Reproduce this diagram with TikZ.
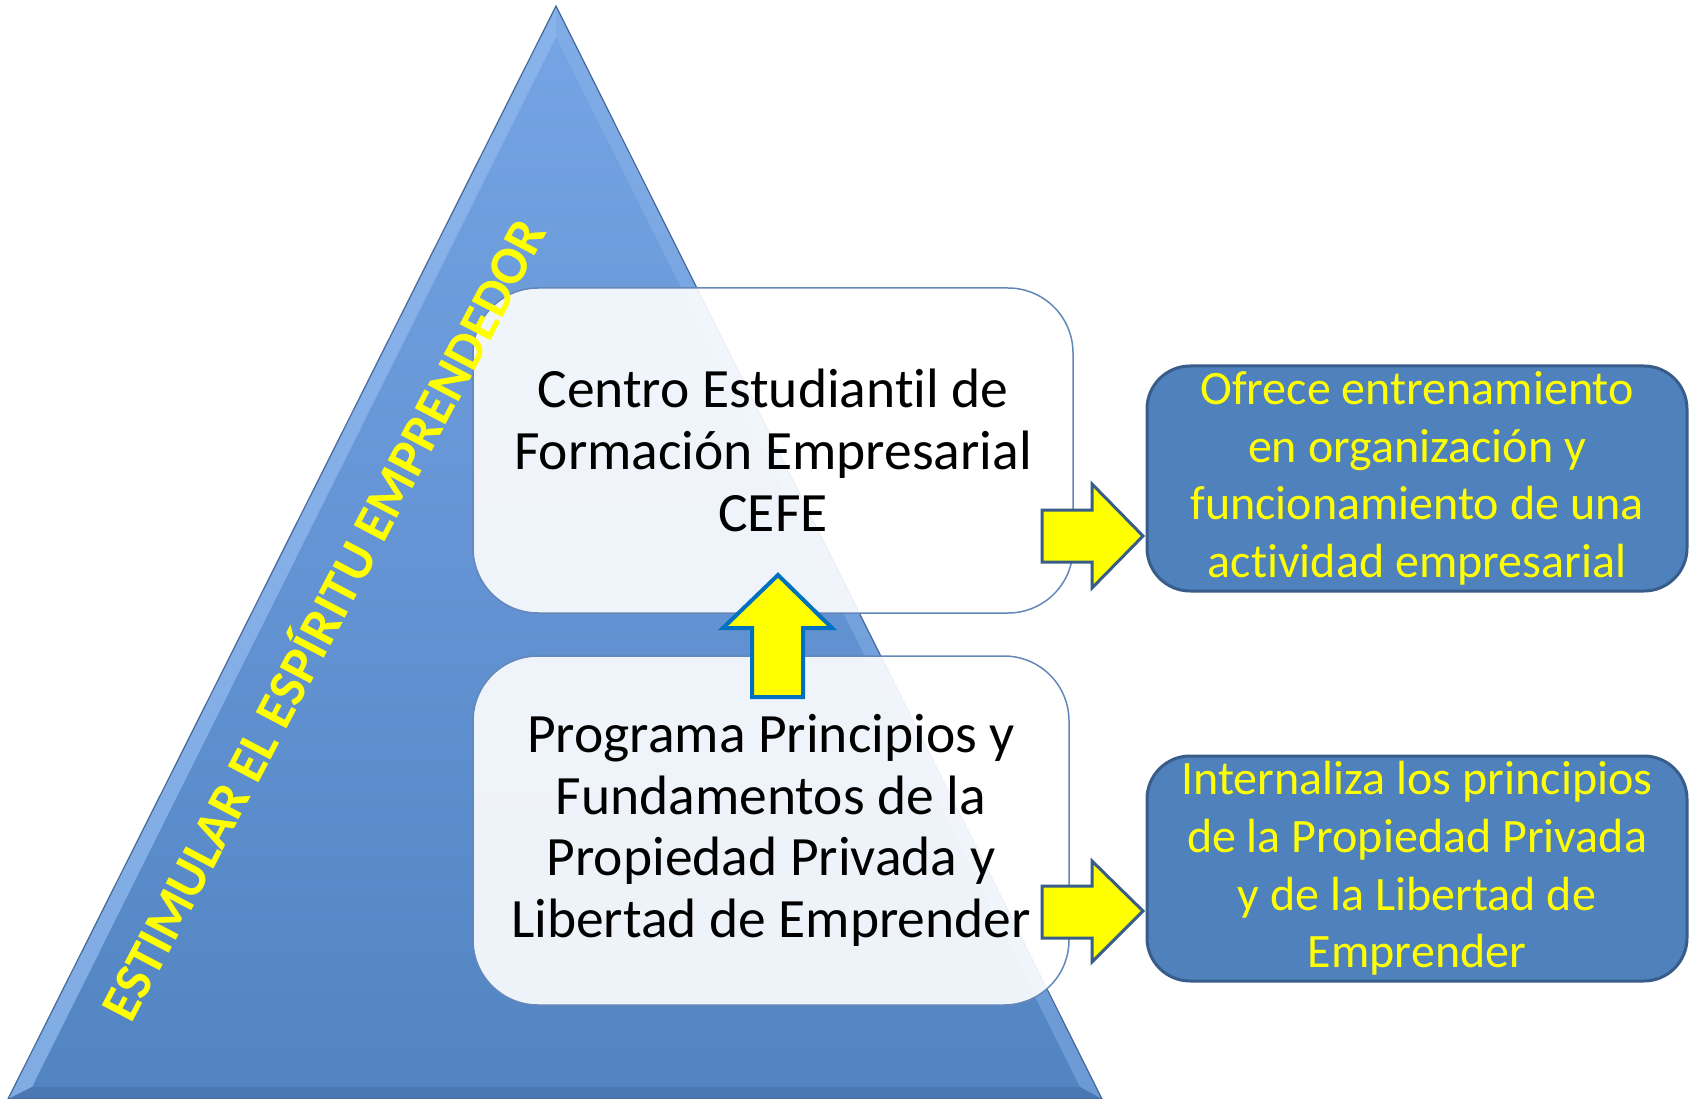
\documentclass[tikz,border=0pt]{standalone}
\usepackage{fontspec}
\setmainfont[Ligatures={NoCommon,NoContextual}]{Carlito}
\definecolor{triTop}{RGB}{118,164,228}
\definecolor{triBot}{RGB}{82,132,194}
\definecolor{triEdge}{RGB}{70,105,155}
\definecolor{bevL}{RGB}{140,182,236}
\definecolor{bevB}{RGB}{74,118,176}
\definecolor{boxBlue}{RGB}{79,129,189}
\definecolor{boxEdge}{RGB}{56,93,138}
\definecolor{wEdge}{RGB}{100,135,185}
\definecolor{arrUp}{RGB}{0,112,192}
\definecolor{yel}{RGB}{255,255,0}
\tikzset{
  whitebox/.style={draw=wEdge, line width=1.5pt, fill=white, fill opacity=0.9, text opacity=1,
    rounded corners=65pt, inner sep=0pt, align=center, font=\fontsize{55.5}{61.7}\selectfont},
  bluebox/.style={draw=boxEdge, line width=3pt, fill=boxBlue, rounded corners=43pt,
    inner sep=0pt, align=center, text=yel, font=\fontsize{48}{57.7}\selectfont},
  blockarrow/.style={fill=yel, draw=boxEdge, line width=3pt, line join=miter},
  uparrow/.style={fill=yel, draw=arrUp, line width=4pt, line join=miter}
}
\begin{document}
\begin{tikzpicture}[x=1pt,y=-1pt]
\useasboundingbox (0,0) rectangle (1698,1099);
% triangle
\coordinate (apex) at (556,6);
\coordinate (bl) at (8,1099);
\coordinate (br) at (1102,1099);
\coordinate (iapex) at (556,37);
\coordinate (ibl) at (32,1087);
\coordinate (ibr) at (1080,1087);
\shade[top color=triTop, bottom color=triBot] (apex) -- (br) -- (bl) -- cycle;
\fill[bevL, opacity=0.8] (apex) -- (iapex) -- (ibl) -- (bl) -- cycle;
\fill[bevL, opacity=0.45] (apex) -- (br) -- (ibr) -- (iapex) -- cycle;
\fill[bevB, opacity=0.8] (bl) -- (ibl) -- (ibr) -- (br) -- cycle;
\draw[triEdge, line width=1.2pt, line join=miter] (apex) -- (br) -- (bl) -- cycle;
% white boxes
\node[whitebox, minimum width=600pt, minimum height=325pt] (cefe) at (773,450.5)
  {Centro Estudiant\kern0pt il de\\Formación Empresarial\\CEFE};
\node[whitebox, minimum width=596pt, minimum height=349pt] (prog) at (771,830.5)
  {Programa Principios y\\Fundamentos de la\\Propiedad Privada y\\Libertad de Emprender};
% blue boxes
\node[bluebox, minimum width=540pt, minimum height=225pt] (ofrece) at (1417,478.5)
  {Ofrece entrenamiento\\en organización y\\funcionamiento de una\\act\kern0pt ividad empresarial};
\node[bluebox, minimum width=540pt, minimum height=225pt] (intern) at (1417,868.5)
  {Internaliza los principios\\de la Propiedad Privada\\y de la Libertad de\\Emprender};
% arrows
\draw[uparrow] (778,575) -- (832,628) -- (803,628) -- (803,697) -- (752,697) -- (752,628) -- (723,628) -- cycle;
\draw[blockarrow] (1042,510) -- (1092,510) -- (1092,484) -- (1143,536) -- (1092,588) -- (1092,562) -- (1042,562) -- cycle;
\draw[blockarrow] (1042,886) -- (1092,886) -- (1092,861) -- (1143,911) -- (1092,962) -- (1092,938) -- (1042,938) -- cycle;
% rotated label
\node[rotate=62.3, text=yel, font=\fontsize{53.5}{58}\selectfont\bfseries, inner sep=0pt] (lbl) at (320,618)
  {ESTIMULAR EL ESPÍRITU EMPRENDEDOR};
\end{tikzpicture}
\end{document}
